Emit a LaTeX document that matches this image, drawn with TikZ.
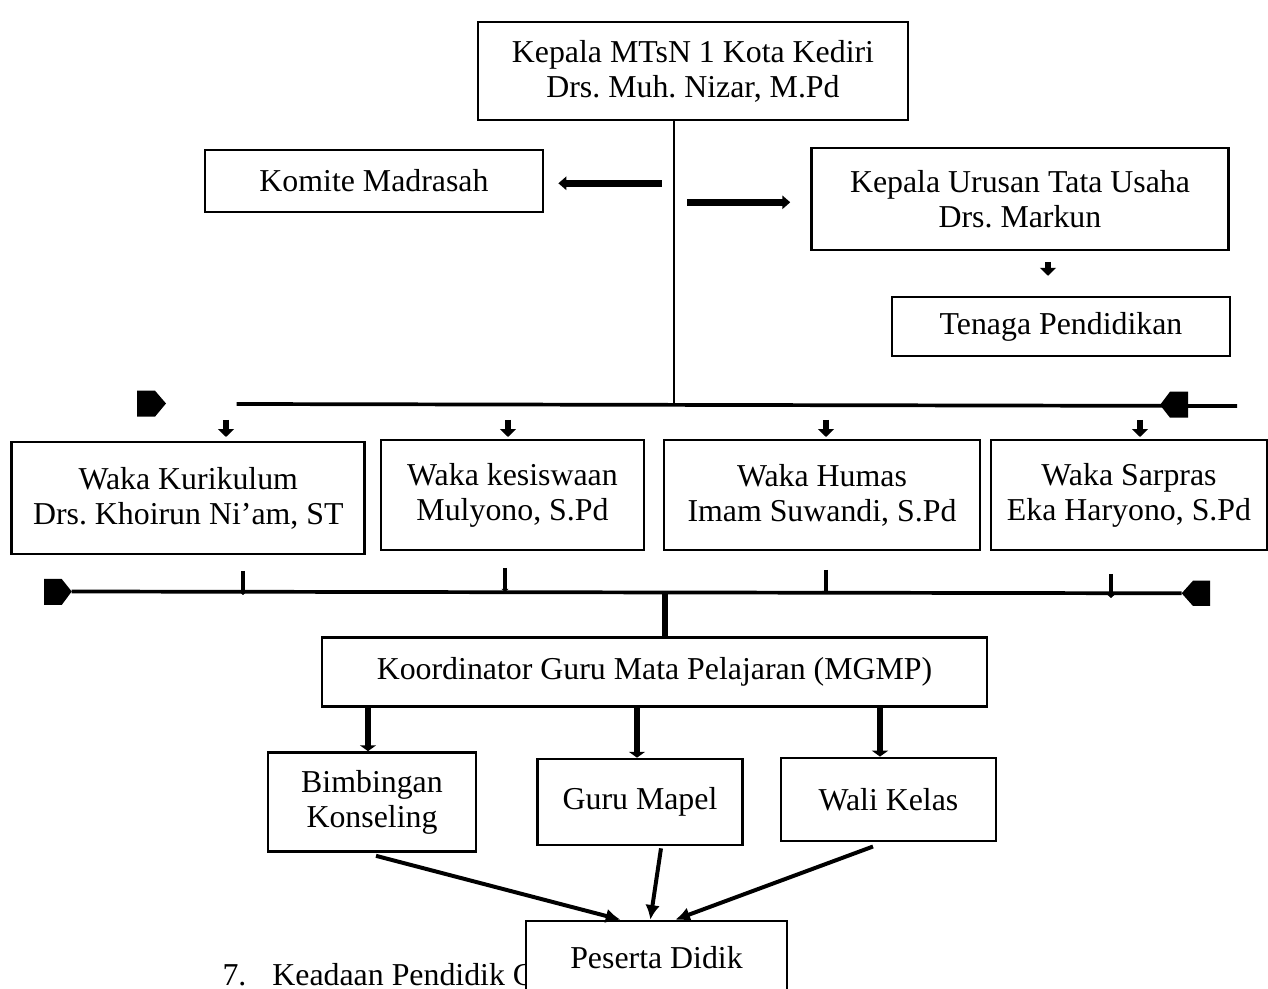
\documentclass[tikz,border=0pt]{standalone}
\usepackage{fontspec}
\setmainfont{Liberation Serif}
\usetikzlibrary{arrows.meta,calc}
\frenchspacing
\newcommand\upx{0.3768pt}
\tikzset{
  box/.style={draw,line width=1pt,fill=white,align=center,inner sep=2pt,font=\fontsize{12}{13.2}\selectfont},
  wh/.style 2 args={minimum width=#1*\upx,minimum height=#2*\upx},
  stem/.style={line width=1.1pt},
  bar/.style={line width=1.4pt},
  fatarr/.style={-{Triangle[length=3pt,width=5pt]},line width=2.6pt},
  droparr/.style={-{Triangle[length=2.2pt,width=6pt]},line width=2.6pt},
  tinyarr/.style={-{Triangle[length=3pt,width=6pt]},line width=2.2pt},
  tickarr/.style={-{Triangle[length=1.2pt,width=2.6pt]},line width=1.6pt},
  thinarr/.style={-{Latex[length=5.5pt,width=5.5pt]},line width=1.5pt}
}
\begin{document}
\begin{tikzpicture}[x=\upx,y=-\upx]
  \useasboundingbox (0,0) rectangle (1268,989);

  % head and staff
  \node[box,wh={430}{98}] (kepala) at (693,71) {Kepala MTsN 1 Kota Kediri\\Drs. Muh. Nizar, M.Pd};
  \node[box,wh={338}{62}] (komite) at (374,181) {Komite Madrasah};
  \node[box,wh={417}{102}] (urusan) at (1020,199) {Kepala Urusan Tata Usaha\\Drs. Markun};
  \node[box,wh={338}{59}] (tenaga) at (1061,326.5) {Tenaga Pendidikan};

  \coordinate (hub) at (674,404);
  \draw[stem] (kepala.south -| hub) -- (hub);
  \coordinate (kl) at (661.7,183.3);
  \coordinate (kr) at (687.3,202.3);
  \draw[fatarr,shorten >=5.3pt] (kl) -- (kl -| komite.east);
  \draw[fatarr,shorten >=7.5pt] (kr) -- (kr -| urusan.west);
  \coordinate (ut) at (1048,262);
  \draw[tinyarr,shorten >=7.5pt] (ut) -- (ut |- tenaga.north);

  % first bar
  \coordinate (b1w) at (236.7,404);
  \coordinate (b1e) at (1237,406);
  \draw[bar] (b1w) -- (b1e);
  \fill (137,390.7) -- (155,390.7) -- (166,403.5) -- (155,416.7) -- (137,416.7) -- cycle;
  \fill (1188,391.7) -- (1170,391.7) -- (1160,405) -- (1170,417.7) -- (1188,417.7) -- cycle;
  \foreach \x in {226,508,826,1140}{\draw[tinyarr] (\x,420) -- (\x,437);}

  % waka
  \node[box,wh={353}{112}] (kur) at (188.3,498) {Waka Kurikulum\\Drs. Khoirun Ni’am, ST};
  \node[box,wh={263}{110}] (kes) at (512.5,495) {Waka kesiswaan\\Mulyono, S.Pd};
  \node[box,wh={316}{110}] (hum) at (822,495) {Waka Humas\\Imam Suwandi, S.Pd};
  \node[box,wh={276}{110}] (sar) at (1129,495) {Waka Sarpras\\Eka Haryono, S.Pd};

  % second bar
  \coordinate (b2w) at (71.7,591.5);
  \coordinate (b2e) at (1181.7,593.3);
  \draw[bar] (b2w) -- (b2e);
  \fill (44,579) -- (61.7,579) -- (71.7,591.5) -- (61.7,605) -- (44,605) -- cycle;
  \fill (1210,580.7) -- (1193,580.7) -- (1181.7,593.3) -- (1193,606) -- (1210,606) -- cycle;
  \foreach \x/\y in {243/571,505/568,826/570,1111/574}{\draw[tickarr] (\x,\y) -- (\x,\y+24);}

  \node[box,wh={665}{69}] (mgmp) at (654.5,672.3) {Koordinator Guru Mata Pelajaran (MGMP)};
  \coordinate (hub2) at (665,592.5);
  \draw[line width=2.3pt] (hub2) -- (hub2 |- mgmp.north);

  \node[box,wh={208}{99}] (bk) at (372,802) {Bimbingan\\Konseling};
  \node[box,wh={205}{86}] (mapel) at (640,802) {Guru Mapel};
  \node[box,wh={215}{83}] (wali) at (888.4,799.4) {Wali Kelas};
  \foreach \n/\x in {bk/368,mapel/637,wali/880}{\draw[droparr] (mgmp.south -| \x,0) -- (\x,0 |- \n.north);}

  % page text behind the last box
  \node[anchor=base west,inner sep=0pt,font=\fontsize{12}{13.2}\selectfont] (item) at (222,985.5) {7.\hspace{9.8pt}Keadaan Pendidik Guru};
  \node[box,wh={261}{74}] (pd) at (656.5,958) {Peserta Didik};
  \draw[thinarr] ($(bk.south)+(4,3)$) -- ($(pd.north west)+(95.7,0)$);
  \draw[thinarr] ($(mapel.south)+(21,2)$) -- ($(pd.north west)+(125.7,0)$);
  \draw[thinarr] ($(wali.south)+(-15.4,4.3)$) -- ($(pd.north west)+(150.7,0)$);
\end{tikzpicture}
\end{document}
